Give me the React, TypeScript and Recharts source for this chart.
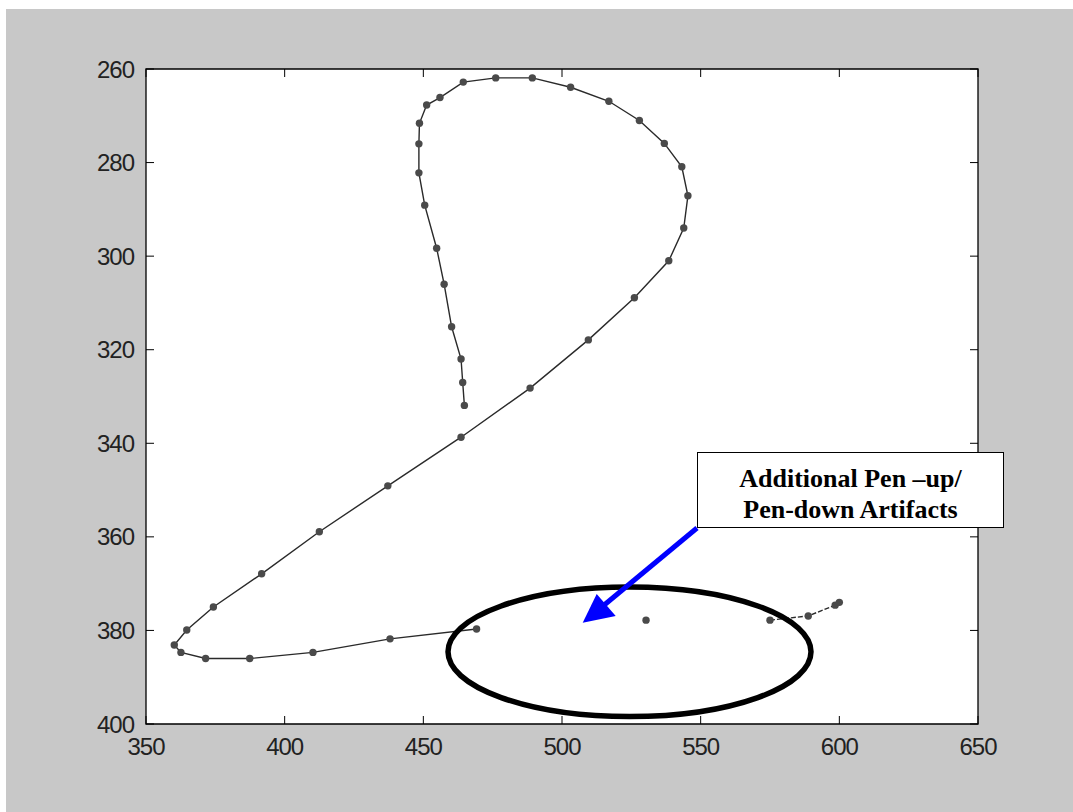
import React from 'react';
import { ScatterChart, Scatter, XAxis, YAxis, CartesianGrid, ReferenceArea } from 'recharts';

// main pen stroke, in drawing order (starts at the bottom of the left tail)
const strokeX = [
  464.8, 464.2, 463.6, 460.2, 457.5, 454.8, 450.5, 448.4, 448.4, 448.6, 451.2, 456.0, 464.4,
  476.1, 489.3, 503.1, 516.9, 527.9, 536.9, 543.2, 545.4, 543.9, 538.5, 526.1, 509.5, 488.5,
  463.6, 437.2, 412.5, 391.7, 374.3, 364.7, 360.2, 362.6, 371.5, 387.4, 410.2, 438.0, 469.2,
];
const strokeY = [
  331.9, 327.0, 322.0, 315.1, 306.0, 298.3, 289.1, 282.2, 276.0, 271.6, 267.7, 266.1, 262.8,
  261.9, 261.9, 263.9, 266.9, 271.0, 275.9, 280.9, 287.1, 294.0, 301.0, 308.9, 317.9, 328.2,
  338.7, 349.1, 358.9, 367.9, 375.0, 379.9, 383.1, 384.7, 386.0, 386.0, 384.7, 381.8, 379.7,
];

// pen-up / pen-down artifacts
const dotX = [530.3];
const dotY = [377.8];
const tailX = [575.0, 588.8, 598.5, 600.0];
const tailY = [377.8, 376.9, 374.6, 374.0];

const xTicks = [350, 400, 450, 500, 550, 600, 650];
const yTicks = [260, 280, 300, 320, 340, 360, 380, 400];

const noteLines = ['Additional Pen \u2013up/', 'Pen-down Artifacts'];

const zip = (xs: number[], ys: number[]) => xs.map((x, i) => ({ x, y: ys[i] }));
const strokeData = zip(strokeX, strokeY);
const dotData = zip(dotX, dotY);
const tailData = zip(tailX, tailY);

const PLOT_TOP = 69;
const PLOT_LEFT = 146;
const PLOT_RIGHT = 978;
const PLOT_BOTTOM = 724;
const TICK = 8;
const X_GAP = 14;
const Y_GAP = 12;

const axisFont = { fontFamily: '"Liberation Sans", Arial, sans-serif', fontSize: 24, letterSpacing: -1 };

const XTick = (props: any) => {
  const { x, y, payload } = props;
  const base = y - X_GAP;
  return (
    <g>
      <line x1={x} y1={base} x2={x} y2={base - TICK} stroke="#000" />
      <line x1={x} y1={PLOT_TOP} x2={x} y2={PLOT_TOP + TICK} stroke="#000" />
      <text x={x} y={y + 17} textAnchor="middle" fill="#222" style={axisFont}>
        {payload.value}
      </text>
    </g>
  );
};

const YTick = (props: any) => {
  const { x, y, payload } = props;
  const base = x + Y_GAP;
  return (
    <g>
      <line x1={base} y1={y} x2={base + TICK} y2={y} stroke="#000" />
      <line x1={PLOT_RIGHT} y1={y} x2={PLOT_RIGHT - TICK} y2={y} stroke="#000" />
      <text x={x} y={y + 8.6} textAnchor="end" fill="#222" style={axisFont}>
        {payload.value}
      </text>
    </g>
  );
};

const Marker = (props: any) => <circle cx={props.cx} cy={props.cy} r={3.7} fill="#4a4a4a" />;

const App: React.FC = () => {
  return (
    <div style={{ position: 'fixed', left: 0, top: 0, width: 1073, height: 812, background: '#fff' }}>
      <div style={{ position: 'absolute', left: 6, top: 9, right: 0, bottom: 0, background: '#c8c8c8' }} />
      <div style={{ position: 'absolute', left: 0, top: 0 }}>
        <ScatterChart
          width={1073}
          height={812}
          margin={{ top: PLOT_TOP, left: PLOT_LEFT - 60, right: 1073 - PLOT_RIGHT, bottom: 812 - PLOT_BOTTOM - 50 }}
        >
          <CartesianGrid horizontal={false} vertical={false} fill="#fff" />
          <XAxis
            type="number"
            dataKey="x"
            domain={[350, 650]}
            ticks={xTicks}
            interval={0}
            height={50}
            axisLine={false}
            tickLine={false}
            tickSize={0}
            tickMargin={X_GAP}
            tick={<XTick />}
          />
          <YAxis
            type="number"
            dataKey="y"
            domain={[260, 400]}
            reversed
            ticks={yTicks}
            interval={0}
            width={60}
            axisLine={false}
            tickLine={false}
            tickSize={0}
            tickMargin={Y_GAP}
            tick={<YTick />}
          />
          <ReferenceArea x1={350} x2={650} y1={260} y2={400} fill="none" fillOpacity={0} stroke="#000" strokeWidth={1.3} />
          <Scatter data={strokeData} line={{ stroke: '#2a2a2a', strokeWidth: 1.4 }} shape={<Marker />} isAnimationActive={false} />
          <Scatter data={tailData} line={{ stroke: '#2a2a2a', strokeWidth: 1.4, strokeDasharray: '5 2' }} shape={<Marker />} isAnimationActive={false} />
          <Scatter data={dotData} shape={<Marker />} isAnimationActive={false} />
        </ScatterChart>
      </div>
      <svg width={1073} height={812} style={{ position: 'absolute', left: 0, top: 0, pointerEvents: 'none' }}>
        <ellipse cx={629.5} cy={651.8} rx={181.5} ry={64.8} fill="none" stroke="#000" strokeWidth={5.5} />
        <line x1={697} y1={528} x2={603} y2={606} stroke="#0000ff" strokeWidth={5} />
        <polygon points="582.7,622.7 596.7,594 615.7,616" fill="#0000ff" />
      </svg>
      <div
        style={{
          position: 'absolute',
          left: 697,
          top: 452,
          width: 307,
          height: 76,
          boxSizing: 'border-box',
          border: '1.5px solid #000',
          background: '#fff',
          paddingTop: 10,
          textAlign: 'center',
          fontFamily: '"Liberation Serif", "Times New Roman", serif',
          fontWeight: 'bold',
          fontSize: 26,
          lineHeight: '31px',
          color: '#000',
        }}
      >
        {noteLines.map((l) => (
          <div key={l}>{l}</div>
        ))}
      </div>
    </div>
  );
};

export default App;
